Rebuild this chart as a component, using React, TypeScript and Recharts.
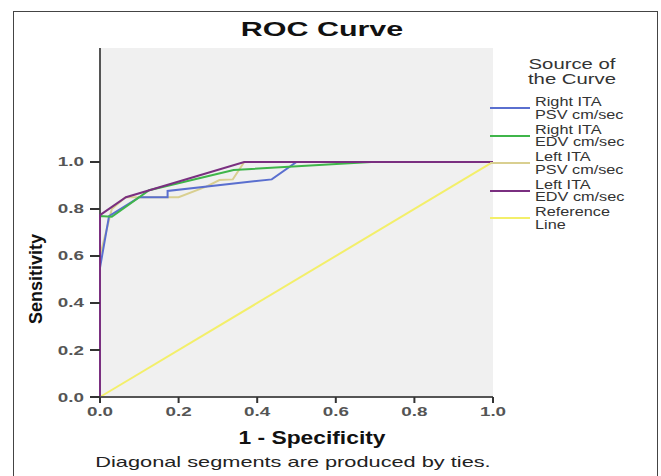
import React from "react";
import { LineChart, Line, XAxis, YAxis, CartesianGrid } from "recharts";

// ROC points: [1 - specificity, sensitivity]
const rightPsv = [
  [0, 0], [0, 0.55], [0.023, 0.77], [0.1, 0.85], [0.172, 0.85], [0.172, 0.877],
  [0.437, 0.926], [0.5, 1.0], [1, 1.0],
];
const rightEdv = [
  [0, 0], [0, 0.77], [0.03, 0.767], [0.125, 0.88], [0.34, 0.966], [0.69, 1.0], [1, 1.0],
];
const leftPsv = [
  [0, 0], [0, 0.6], [0.03, 0.8], [0.065, 0.85], [0.2, 0.85], [0.27, 0.895],
  [0.304, 0.923], [0.338, 0.926], [0.367, 1.0], [1, 1.0],
];
const leftEdv = [
  [0, 0], [0, 0.774], [0.066, 0.85], [0.367, 1.0], [1, 1.0],
];
const reference = [
  [0, 0], [1, 1],
];

const ticks = [0, 0.2, 0.4, 0.6, 0.8, 1.0];

const series = [
  { name: ["Right ITA", "PSV cm/sec"], pts: rightPsv, color: "#5a6fcf" },
  { name: ["Right ITA", "EDV cm/sec"], pts: rightEdv, color: "#3fb54a" },
  { name: ["Left ITA", "PSV cm/sec"], pts: leftPsv, color: "#d9cf90" },
  { name: ["Left ITA", "EDV cm/sec"], pts: leftEdv, color: "#7a2f80" },
  { name: ["Reference", "Line"], pts: reference, color: "#f3ef6a" },
];

const toRows = (pts: number[][]) => pts.map(([x, y]) => ({ x, y }));

const font = "'Liberation Sans', Arial, sans-serif";
const drawOrder = [4, 2, 0, 1, 3];
// the source picture is stretched sideways, so text is widened to match
const wide = (s: number) => ({ transform: `scaleX(${s})`, transformOrigin: "center" });

const XTick = (props: any) => {
  const { x, y, payload } = props;
  return (
    <g transform={`translate(${x},${y})`}>
      <text transform="scale(1.45,1)" textAnchor="middle" dy={11} fontSize={13} fontWeight="bold" fill="#555" fontFamily={font}>
        {Number(payload.value).toFixed(1)}
      </text>
    </g>
  );
};

const YTick = (props: any) => {
  const { x, y, payload } = props;
  return (
    <g transform={`translate(${x - 4},${y})`}>
      <text transform="scale(1.45,1)" textAnchor="end" dy={4.5} fontSize={13} fontWeight="bold" fill="#555" fontFamily={font}>
        {Number(payload.value).toFixed(1)}
      </text>
    </g>
  );
};

export default function App() {
  return (
    <div style={{ position: "absolute", left: 0, top: 0, width: 661, height: 476, background: "#fff", fontFamily: font, overflow: "hidden" }}>
      <div style={{ position: "absolute", left: 13, top: 11, width: 643, height: 480, border: "1px solid #444" }} />
      <LineChart width={661} height={476} margin={{ top: 48, right: 168, left: 40, bottom: 59 }}>
        {/* left frame drawn as a grid line so the curves at x = 0 sit on top of it */}
        <CartesianGrid fill="#f0f0f0" horizontal={false} verticalPoints={[100]} stroke="#555" strokeWidth={2} strokeDasharray="" />
        <XAxis
          dataKey="x"
          type="number"
          domain={[0, 1]}
          ticks={ticks}
          tick={<XTick />}
          height={20}
          tickSize={6}
          axisLine={{ stroke: "#555", strokeWidth: 2 }}
          tickLine={{ stroke: "#333", strokeWidth: 2 }}
          allowDuplicatedCategory={false}
        />
        <XAxis xAxisId="top" orientation="top" type="number" domain={[0, 1]} tick={false} tickLine={false} height={0} axisLine={{ stroke: "#666", strokeWidth: 2 }} />
        <YAxis
          type="number"
          domain={[0, 1.485]}
          ticks={ticks}
          tick={<YTick />}
          width={60}
          tickSize={10}
          axisLine={false}
          tickLine={{ stroke: "#333", strokeWidth: 2 }}
        />
        <YAxis yAxisId="right" orientation="right" type="number" domain={[0, 1]} tick={false} tickLine={false} width={0} axisLine={{ stroke: "#666", strokeWidth: 2 }} />
        {drawOrder.map((i) => (
          <Line
            key={i}
            data={toRows(series[i].pts)}
            dataKey="y"
            type="linear"
            stroke={series[i].color}
            strokeWidth={2}
            dot={false}
            activeDot={false}
            isAnimationActive={false}
          />
        ))}
      </LineChart>

      <div style={{ position: "absolute", left: 222, width: 200, top: 17, textAlign: "center", fontSize: 21, fontWeight: "bold", color: "#111", ...wide(1.45) }}>
        ROC Curve
      </div>
      <div style={{ position: "absolute", left: 212, width: 200, top: 427, textAlign: "center", fontSize: 19, fontWeight: "bold", color: "#111", ...wide(1.2) }}>
        1 - Specificity
      </div>
      <div style={{ position: "absolute", left: 43, width: 500, top: 453, textAlign: "center", fontSize: 15, color: "#222", ...wide(1.45) }}>
        Diagonal segments are produced by ties.
      </div>
      <div
        style={{
          position: "absolute", left: 37, top: 279, width: 120, marginLeft: -60, marginTop: -11, height: 22,
          textAlign: "center", transform: "rotate(-90deg)", fontSize: 18, fontWeight: "bold", color: "#111",
          fontFamily: "'Liberation Sans Narrow', 'Arial Narrow', sans-serif",
        }}
      >
        Sensitivity
      </div>

      <div style={{ position: "absolute", left: 512, width: 120, top: 57, textAlign: "center", fontSize: 14, lineHeight: "14px", color: "#333", ...wide(1.45) }}>
        Source of
      </div>
      <div style={{ position: "absolute", left: 512, width: 120, top: 72, textAlign: "center", fontSize: 14, lineHeight: "14px", color: "#333", ...wide(1.45) }}>
        the Curve
      </div>
      {series.map((s, i) => (
        <div key={i} style={{ position: "absolute", left: 490, top: 95 + i * 27.6, height: 26 }}>
          <div style={{ position: "absolute", left: 0, top: 12, width: 40, height: 2, background: s.color }} />
          <div style={{ position: "absolute", left: 45, top: 1, fontSize: 12.5, lineHeight: "12.5px", color: "#333", whiteSpace: "nowrap", transform: "scaleX(1.3)", transformOrigin: "left" }}>
            {s.name[0]}<br />{s.name[1]}
          </div>
        </div>
      ))}
    </div>
  );
}
